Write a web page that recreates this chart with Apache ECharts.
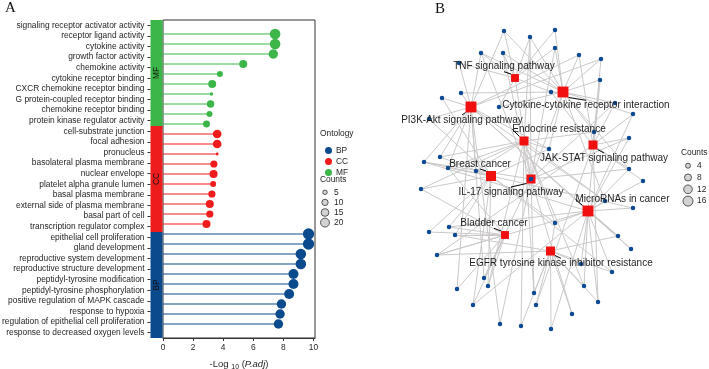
<!DOCTYPE html>
<html>
<head>
<meta charset="utf-8">
<script src="https://cdn.jsdelivr.net/npm/echarts@6/dist/echarts.min.js"></script>
<style>
  html, body { margin: 0; padding: 0; background: #fff; }
  #main { width: 709px; height: 369px; }
</style>
</head>
<body>
<div id="main"></div>
<script>
var myChart = echarts.init(document.getElementById('main'));

// ---- panel A : GO enrichment (top to bottom) ----
var mfTerms = ['signaling receptor activator activity', 'receptor ligand activity', 'cytokine activity',
  'growth factor activity', 'chemokine activity', 'cytokine receptor binding', 'CXCR chemokine receptor binding',
  'G protein-coupled receptor binding', 'chemokine receptor binding', 'protein kinase regulator activity'];
var mfLogP = [7.45, 7.45, 7.33, 5.33, 3.78, 3.27, 3.22, 3.16, 3.09, 2.89];
var mfCounts = [28, 28, 22, 16, 9, 16, 3, 14, 9, 12];

var ccTerms = ['cell-substrate junction', 'focal adhesion', 'pronucleus', 'basolateral plasma membrane',
  'nuclear envelope', 'platelet alpha granule lumen', 'basal plasma membrane', 'external side of plasma membrane',
  'basal part of cell', 'transcription regulator complex'];
var ccLogP = [3.6, 3.6, 3.6, 3.38, 3.36, 3.33, 3.25, 3.11, 3.11, 2.89];
var ccCounts = [19, 19, 2, 13, 16, 9, 13, 16, 13, 16];

var bpTerms = ['epithelial cell proliferation', 'gland development', 'reproductive system development',
  'reproductive structure development', 'peptidyl-tyrosine modification', 'peptidyl-tyrosine phosphorylation',
  'positive regulation of MAPK cascade', 'response to hypoxia', 'regulation of epithelial cell proliferation',
  'response to decreased oxygen levels'];
var bpLogP = [9.67, 9.67, 9.16, 9.16, 8.67, 8.67, 8.38, 7.87, 7.78, 7.67];
var bpCounts = [32, 32, 28, 28, 25, 25, 25, 22, 22, 22];

var ontologyNames = ['MF', 'CC', 'BP'];
var countBreaksA = [5, 10, 15, 20];

// ---- panel B : pathway-gene network ----
var pathwayNames = ['TNF signaling pathway', 'Cytokine-cytokine receptor interaction', 'PI3K-Akt signaling pathway',
  'Endocrine resistance', 'JAK-STAT signaling pathway', 'Breast cancer', 'IL-17 signaling pathway',
  'MicroRNAs in cancer', 'Bladder cancer', 'EGFR tyrosine kinase inhibitor resistance'];
var pathwayX = [515, 563, 471, 524, 593, 491, 531, 588, 505, 550.5];
var pathwayY = [78, 92, 107, 141, 145, 176, 179, 211, 235, 251];
var pathwayCounts = [10, 19, 19, 13, 13, 16, 13, 19, 10, 13];

var geneX = [504, 530, 481, 503, 459, 461, 442, 499, 429, 440, 424, 448, 476, 421, 549, 531, 555, 555, 579, 601,
  600, 551, 615, 633, 594, 629, 629, 643, 605, 449, 455, 555, 618, 429, 437, 484, 488, 457, 534, 473,
  536, 500, 521, 633, 631, 581, 612, 584, 598, 572, 551];
var geneY = [31, 37, 53, 53, 63, 93, 98, 107, 119, 157, 162, 168, 171, 189, 149, 179, 30, 48, 55, 59,
  80, 92, 103, 114, 132, 138, 169, 181, 201, 227, 235, 223, 236, 232, 255, 278, 286, 289, 293, 305,
  305, 324, 326, 208, 249, 264, 272, 286, 302, 314, 329];

// gene numbers (1-based) linked to each pathway
var pathwayGenes = [
  [1, 2, 3, 4, 5, 8, 17, 18, 16, 22],
  [1, 2, 4, 17, 18, 19, 20, 21, 22, 23, 24, 6, 8, 16, 25, 3, 29, 15, 27],
  [5, 6, 7, 9, 10, 11, 12, 13, 3, 1, 15, 19, 36, 29, 42, 38, 20, 33, 45],
  [15, 25, 13, 12, 14, 32, 39, 43, 10, 29, 48, 2, 37],
  [20, 21, 23, 24, 25, 26, 27, 28, 19, 22, 41, 49, 35],
  [10, 11, 12, 13, 14, 30, 31, 34, 37, 40, 9, 15, 47, 7, 44, 32],
  [16, 3, 4, 2, 26, 27, 36, 39, 42, 50, 18, 23, 11],
  [29, 44, 28, 27, 45, 33, 47, 46, 49, 32, 26, 24, 48, 51, 11, 35, 30, 21, 40],
  [30, 31, 34, 37, 38, 36, 40, 14, 35, 12],
  [35, 32, 33, 41, 43, 46, 47, 48, 49, 50, 51, 39, 31]
];
var countBreaksB = [4, 8, 12, 16];

// label centres for the pathway names (same layout units)
var labelX = [504, 586, 462, 559, 604, 480, 511, 622.5, 494, 561];
var labelY = [66.7, 105.3, 120, 129.3, 158, 164, 192, 199.3, 223.3, 263.3];

var colors = { MF: '#3DB649', CC: '#EE1C1C', BP: '#0C4A8E' };
var textColor = '#1f1f1f';
var font = 'Liberation Sans, Arial, sans-serif';

function dotSize(c) { return 2 * Math.sqrt(c); }
function squareSize(c) { return 2.5 * Math.sqrt(c); }

var groupTerms = { MF: mfTerms, CC: ccTerms, BP: bpTerms };
var groupLogP = { MF: mfLogP, CC: ccLogP, BP: bpLogP };
var groupCounts = { MF: mfCounts, CC: ccCounts, BP: bpCounts };

var allTerms = mfTerms.concat(ccTerms, bpTerms);

var series = [];
var offset = 0;
ontologyNames.forEach(function (g) {
  var pts = groupLogP[g].map(function (v, i) { return [v, offset + i, groupCounts[g][i]]; });
  offset += groupTerms[g].length;
  series.push({
    name: g + '-stem', type: 'custom', xAxisIndex: 0, yAxisIndex: 0, z: 2,
    encode: { x: 0, y: 1 },
    renderItem: function (params, api) {
      var a = api.coord([0, api.value(1)]);
      var b = api.coord([api.value(0), api.value(1)]);
      return { type: 'line', shape: { x1: a[0], y1: a[1], x2: b[0], y2: b[1] },
        style: { stroke: colors[g], lineWidth: 1 } };
    },
    data: pts, silent: true
  });
  series.push({
    name: g, type: 'scatter', xAxisIndex: 0, yAxisIndex: 0, z: 3,
    symbolSize: function (v) { return dotSize(v[2]); },
    itemStyle: { color: colors[g], opacity: 1 },
    data: pts
  });
});

// strip with ontology names
series.push({
  type: 'bar', xAxisIndex: 1, yAxisIndex: 2, barCategoryGap: '0%', silent: true,
  data: ontologyNames.map(function (g) { return { value: 1, itemStyle: { color: colors[g] } }; }),
  label: { show: true, position: 'inside', rotate: 90, formatter: '{b}', fontSize: 8.4, color: '#111', fontFamily: font }
});

// network
var nodes = [];
pathwayNames.forEach(function (n, i) {
  nodes.push({
    name: n, value: [pathwayX[i], pathwayY[i]], symbol: 'rect', symbolSize: squareSize(pathwayCounts[i]),
    itemStyle: { color: '#F01010' },
    label: { show: true }
  });
});
geneX.forEach(function (x, i) {
  nodes.push({ name: 'g' + (i + 1), value: [x, geneY[i]], symbol: 'circle', symbolSize: 4.5,
    itemStyle: { color: '#0D4A93' }, label: { show: false } });
});
var links = [];
pathwayGenes.forEach(function (list, i) {
  list.forEach(function (g) { links.push({ source: pathwayNames[i], target: 'g' + g }); });
});

series.push({
  type: 'graph', coordinateSystem: 'cartesian2d', xAxisIndex: 2, yAxisIndex: 3,
  data: nodes, links: links, silent: true,
  lineStyle: { color: '#cbc8c8', width: 1, opacity: 1, curveness: 0 },
  label: { show: false, fontSize: 10, color: textColor, fontFamily: font },
  labelLine: { show: true, lineStyle: { color: '#000', width: 1 } },
  labelLayout: function (p) {
    var i = p.dataIndex;
    if (i >= pathwayNames.length) return;
    var cx = p.rect.x + p.rect.width / 2, cy = p.rect.y + p.rect.height / 2;
    return { x: cx + labelX[i] - pathwayX[i], y: cy + labelY[i] - pathwayY[i], align: 'center', verticalAlign: 'middle' };
  }
});

// size legends
var graphics = [
  { type: 'text', left: 5, top: 1, style: { text: 'A', font: '15px Liberation Serif, Times New Roman, serif', fill: '#111' } },
  { type: 'text', left: 435, top: 2, style: { text: 'B', font: '15px Liberation Serif, Times New Roman, serif', fill: '#111' } },
  { type: 'text', left: 320, top: 130, style: { text: 'Ontology', font: '8.4px ' + font, fill: textColor } },
  { type: 'text', left: 320, top: 176, style: { text: 'Counts', font: '8.4px ' + font, fill: textColor } },
  { type: 'text', left: 681, top: 149, style: { text: 'Counts', font: '8.4px ' + font, fill: textColor } }
];
countBreaksA.forEach(function (c, i) {
  var y = 192.3 + i * 10.1;
  graphics.push({ type: 'circle', shape: { cx: 325, cy: y, r: dotSize(c) / 2 },
    style: { fill: '#d3d3d3', stroke: '#333', lineWidth: 0.8 } });
  graphics.push({ type: 'text', x: 334, y: y, style: { text: String(c), font: '8.4px ' + font, fill: textColor, verticalAlign: 'middle' } });
});
countBreaksB.forEach(function (c, i) {
  var y = 165.7 + i * 11.8;
  graphics.push({ type: 'circle', shape: { cx: 688, cy: y, r: squareSize(c) / 2 },
    style: { fill: '#d3d3d3', stroke: '#333', lineWidth: 0.8 } });
  graphics.push({ type: 'text', x: 697, y: y, style: { text: String(c), font: '8.4px ' + font, fill: textColor, verticalAlign: 'middle' } });
});

var option = {
  animation: false,
  textStyle: { fontFamily: font },
  grid: [
    { left: 163, right: 394, top: 20, bottom: 31, show: true, borderColor: '#333', borderWidth: 1,
      containLabel: false, outerBoundsMode: 'none' },
    { left: 150.5, width: 12, top: 20, bottom: 31, containLabel: false, outerBoundsMode: 'none' },
    { left: 400, right: 0, top: 0, bottom: 0, containLabel: false, outerBoundsMode: 'none' }
  ],
  xAxis: [
    { gridIndex: 0, type: 'value', min: 0, max: 10.1, interval: 2, position: 'bottom',
      axisLine: { show: true, onZero: false, lineStyle: { color: '#333' } },
      axisTick: { show: true, length: 3, lineStyle: { color: '#333' } },
      splitLine: { show: false },
      axisLabel: { fontSize: 8.4, color: textColor, margin: 6, showMaxLabel: false },
      name: '-Log {s|10} ({i|P.adj})', nameLocation: 'middle', nameGap: 19,
      nameTextStyle: { fontSize: 9.5, color: textColor, lineHeight: 14,
        rich: { s: { fontSize: 7, lineHeight: 8, verticalAlign: 'bottom', color: textColor },
                i: { fontSize: 9.5, fontStyle: 'italic', color: textColor } } } },
    { gridIndex: 1, type: 'value', min: 0, max: 1, show: false },
    { gridIndex: 2, type: 'value', min: 400, max: 709, show: false }
  ],
  yAxis: [
    { gridIndex: 0, type: 'value', min: -1.4, max: 30.4, inverse: true, show: false },
    { gridIndex: 1, type: 'category', data: allTerms, inverse: true, position: 'left',
      axisLine: { show: false },
      axisTick: { show: true, length: 3, alignWithLabel: true, lineStyle: { color: '#333' } },
      axisLabel: { fontSize: 8.4, color: textColor, margin: 6, interval: 0 } },
    { gridIndex: 1, type: 'category', data: ontologyNames, inverse: true, show: false },
    { gridIndex: 2, type: 'value', min: 0, max: 369, inverse: true, show: false }
  ],
  legend: {
    data: ['BP', 'CC', 'MF'], orient: 'vertical', left: 320, top: 141.5,
    itemWidth: 7, itemHeight: 7, itemGap: 3, icon: 'circle',
    textStyle: { fontSize: 8.4, color: textColor, padding: [0, 0, 0, -1] }, selectedMode: false
  },
  graphic: graphics,
  series: series
};

myChart.setOption(option);
</script>
</body>
</html>
